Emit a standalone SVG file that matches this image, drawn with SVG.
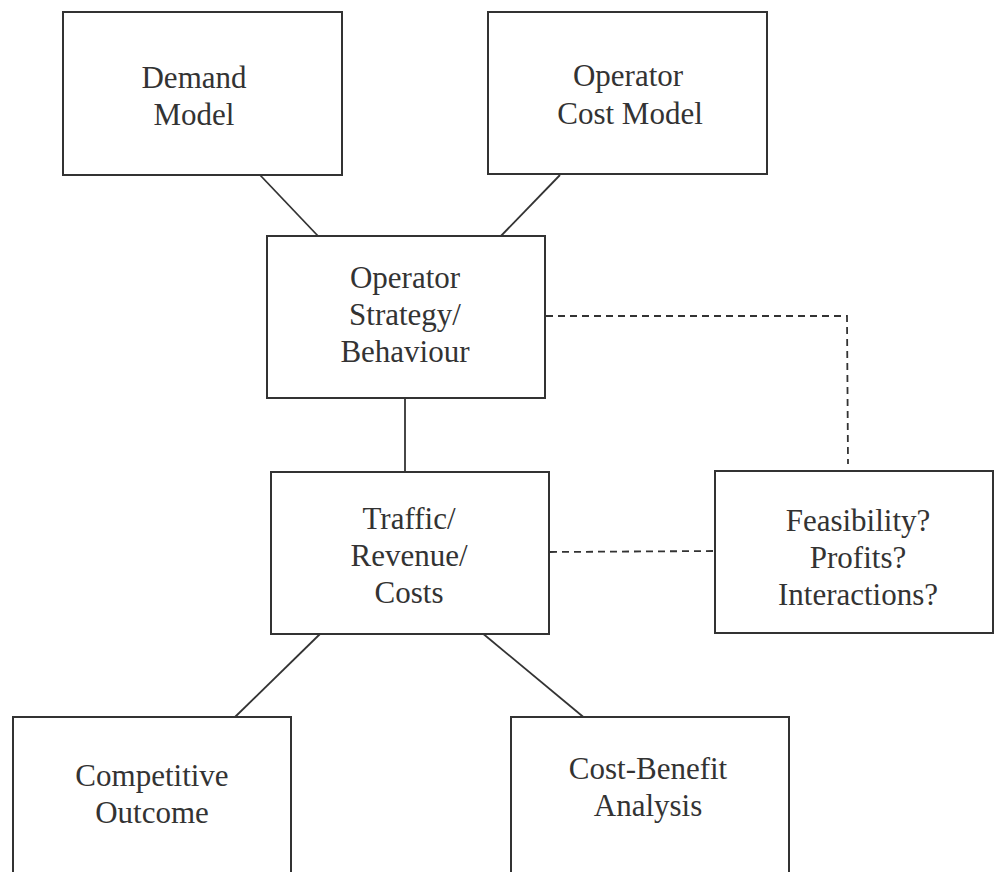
<svg xmlns="http://www.w3.org/2000/svg" width="994" height="872" viewBox="0 0 994 872">
<style>
.box{fill:#fff;stroke:#333;stroke-width:2}
.ln{fill:none;stroke:#333;stroke-width:1.8}
.dash{fill:none;stroke:#333;stroke-width:1.8;stroke-dasharray:7,5}
text{font-family:"Liberation Serif","Times New Roman",serif;font-size:31px;fill:#333;text-anchor:middle}
</style>
<rect width="994" height="872" fill="#fff"/>
<g id="connectors">
<line class="ln" x1="260" y1="175" x2="318" y2="236"/>
<line class="ln" x1="560" y1="175" x2="499" y2="238"/>
<line class="ln" x1="405" y1="398" x2="405" y2="474"/>
<line class="ln" x1="320" y1="634" x2="235" y2="717"/>
<line class="ln" x1="481" y1="632" x2="587" y2="720"/>
<polyline class="dash" points="546,316 847,316 848,464"/>
<line class="dash" x1="550" y1="552" x2="715" y2="551"/>
</g>
<g id="demand-model">
<rect class="box" x="63" y="12" width="279" height="163"/>
<text x="194" y="88">Demand</text>
<text x="194" y="125">Model</text>
</g>
<g id="operator-cost-model">
<rect class="box" x="488" y="12" width="279" height="162"/>
<text x="628" y="86">Operator</text>
<text x="630" y="124">Cost Model</text>
</g>
<g id="operator-strategy">
<rect class="box" x="267" y="236" width="278" height="162"/>
<text x="405" y="288">Operator</text>
<text x="405" y="325">Strategy/</text>
<text x="405" y="362">Behaviour</text>
</g>
<g id="traffic">
<rect class="box" x="271" y="472" width="278" height="162"/>
<text x="409" y="529">Traffic/</text>
<text x="409" y="566">Revenue/</text>
<text x="409" y="603">Costs</text>
</g>
<g id="feasibility">
<rect class="box" x="715" y="471" width="278" height="162"/>
<text x="858" y="531">Feasibility?</text>
<text x="858" y="568">Profits?</text>
<text x="858" y="605">Interactions?</text>
</g>
<g id="competitive-outcome">
<rect class="box" x="13" y="717" width="278" height="170"/>
<text x="152" y="786">Competitive</text>
<text x="152" y="823">Outcome</text>
</g>
<g id="cost-benefit">
<rect class="box" x="511" y="717" width="278" height="170"/>
<text x="648" y="779">Cost-Benefit</text>
<text x="648" y="816">Analysis</text>
</g>
</svg>
